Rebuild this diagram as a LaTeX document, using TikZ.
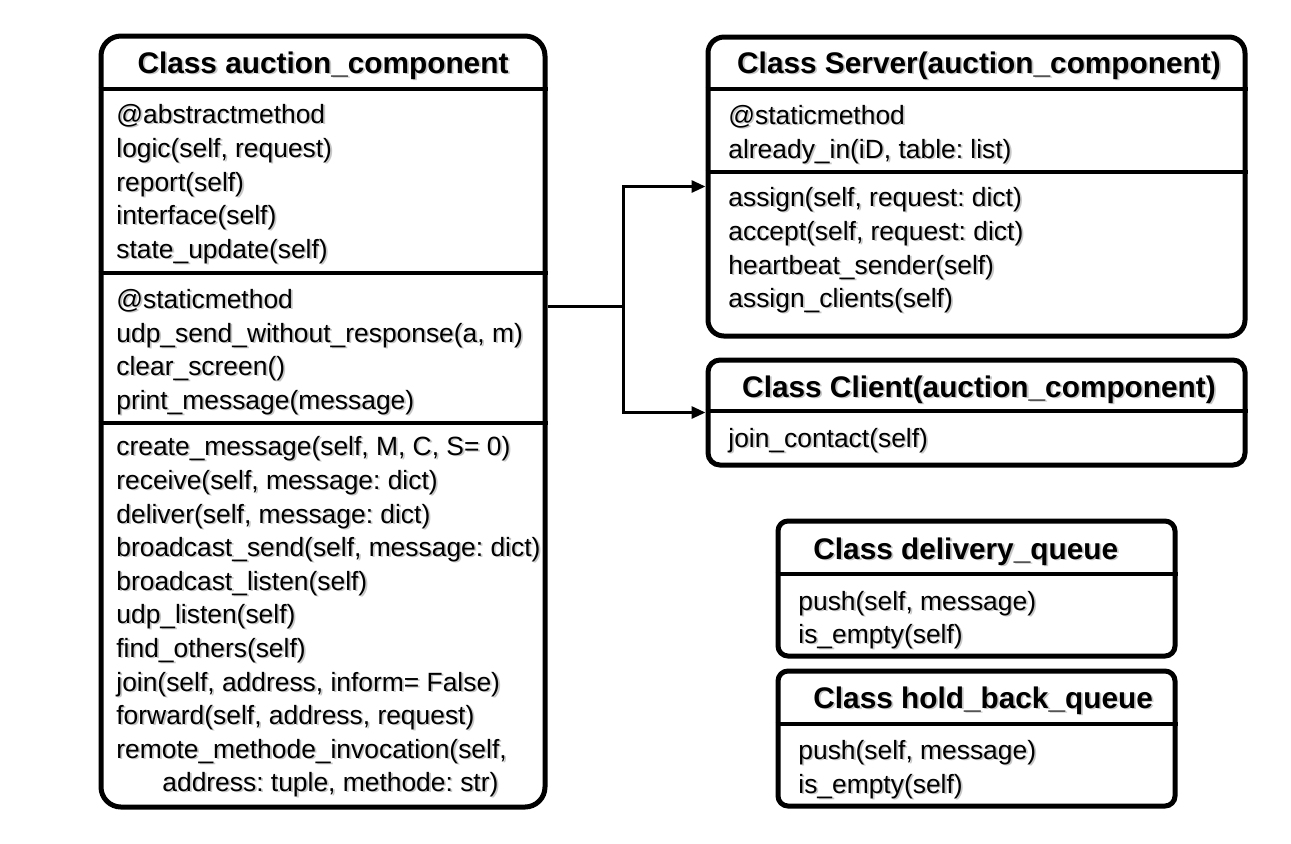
\documentclass[tikz,border=0pt]{standalone}
\usepackage{fontspec}
\setmainfont{Liberation Sans}
\usetikzlibrary{arrows.meta,fit}
\newcommand\shtxt[1]{\rlap{\hspace{0.9pt}\raisebox{-0.9pt}{\textcolor{black!22}{#1}}}#1}
\frenchspacing
\begin{document}
\begin{tikzpicture}[x=0.5pt,y=-0.5pt,
  boxA/.style={draw, line width=2.5pt, inner sep=0pt, rounded corners=#1},
  sepline/.style={line width=1.8pt},
  txt/.style={anchor=base west, inner sep=0pt, font=\fontsize{13.2pt}{15pt}\selectfont},
  ttl/.style={anchor=base, inner sep=0pt, font=\fontsize{14.9pt}{17pt}\selectfont\bfseries},
  ttlw/.style={anchor=base west, inner sep=0pt, font=\fontsize{14.9pt}{17pt}\selectfont\bfseries},
  conn/.style={line width=1.5pt},
  arr/.style={line width=1.5pt, -{Triangle[length=7pt,width=6pt]}}]
\useasboundingbox (0,0) rectangle (1291,843);
\fill[white] (0,0) rectangle (1291,843);
% ---- auction_component
\node[boxA=10pt, fit={(101,36) (545,807)}] (ac) {};
\draw[sepline] (ac.west |- 0,89) -- (ac.east |- 0,89);
\draw[sepline] (ac.west |- 0,273) -- (ac.east |- 0,273);
\draw[sepline] (ac.west |- 0,423) -- (ac.east |- 0,423);
\node[ttl] (act) at (323,73) {\shtxt{Class auction\_component}};
\node[txt] (a1) at (116,123) {\shtxt{@abstractmethod}};
\node[txt] (a2) at (116,157) {\shtxt{logic(self, request)}};
\node[txt] (a3) at (116,191) {\shtxt{report(self)}};
\node[txt] (a4) at (116,224) {\shtxt{interface(self)}};
\node[txt] (a5) at (116,258) {\shtxt{state\_update(self)}};
\node[txt] (b1) at (116,308) {\shtxt{@staticmethod}};
\node[txt] (b2) at (116,342) {\shtxt{udp\_send\_without\_response(a, m)}};
\node[txt] (b3) at (116,375) {\shtxt{clear\_screen()}};
\node[txt] (b4) at (116,409) {\shtxt{print\_message(message)}};
\node[txt] (c1) at (116,455) {\shtxt{create\_message(self, M, C, S= 0)}};
\node[txt] (c2) at (116,489) {\shtxt{receive(self, message: dict)}};
\node[txt] (c3) at (116,523) {\shtxt{deliver(self, message: dict)}};
\node[txt] (c4) at (116,556) {\shtxt{broadcast\_send(self, message: dict)}};
\node[txt] (c5) at (116,590) {\shtxt{broadcast\_listen(self)}};
\node[txt] (c6) at (116,623) {\shtxt{udp\_listen(self)}};
\node[txt] (c7) at (116,657) {\shtxt{find\_others(self)}};
\node[txt] (c8) at (116,691) {\shtxt{join(self, address, inform= False)}};
\node[txt] (c9) at (116,724) {\shtxt{forward(self, address, request)}};
\node[txt] (c10) at (116,758) {\shtxt{remote\_methode\_invocation(self,}};
\node[txt] (c11) at (162,791) {\shtxt{address: tuple, methode: str)}};
% ---- Server
\node[boxA=8pt, fit={(708,37) (1245,336)}] (srv) {};
\draw[sepline] (srv.west |- 0,89) -- (srv.east |- 0,89);
\draw[sepline] (srv.west |- 0,172) -- (srv.east |- 0,172);
\node[ttl] (srvt) at (979,73) {\shtxt{Class Server(auction\_component)}};
\node[txt] (s1) at (728,124) {\shtxt{@staticmethod}};
\node[txt] (s2) at (728,158) {\shtxt{already\_in(iD, table: list)}};
\node[txt] (s3) at (728,206) {\shtxt{assign(self, request: dict)}};
\node[txt] (s4) at (728,240) {\shtxt{accept(self, request: dict)}};
\node[txt] (s5) at (728,274) {\shtxt{heartbeat\_sender(self)}};
\node[txt] (s6) at (728,307) {\shtxt{assign\_clients(self)}};
% ---- Client
\node[boxA=6pt, fit={(708,360) (1245,465)}] (cli) {};
\draw[sepline] (cli.west |- 0,411) -- (cli.east |- 0,411);
\node[ttl] (clit) at (979,397) {\shtxt{Class Client(auction\_component)}};
\node[txt] (k1) at (728,447) {\shtxt{join\_contact(self)}};
% ---- delivery_queue
\node[boxA=5pt, fit={(778,521) (1175,656)}] (dq) {};
\draw[sepline] (dq.west |- 0,574) -- (dq.east |- 0,574);
\node[ttlw] (dqt) at (813,559) {\shtxt{Class delivery\_queue}};
\node[txt] (d1) at (798,610) {\shtxt{push(self, message)}};
\node[txt] (d2) at (798,643) {\shtxt{is\_empty(self)}};
% ---- hold_back_queue
\node[boxA=5pt, fit={(778,671) (1175,806)}] (hq) {};
\draw[sepline] (hq.west |- 0,724) -- (hq.east |- 0,724);
\node[ttlw] (hqt) at (813,708) {\shtxt{Class hold\_back\_queue}};
\node[txt] (h1) at (798,759) {\shtxt{push(self, message)}};
\node[txt] (h2) at (798,793) {\shtxt{is\_empty(self)}};
% ---- connectors
\coordinate (j) at (623,306);
\draw[conn] (ac.east |- j) -- (j);
\draw[arr] (j) |- (srv.west);
\draw[arr] (j) |- (cli.west);
\end{tikzpicture}
\end{document}
